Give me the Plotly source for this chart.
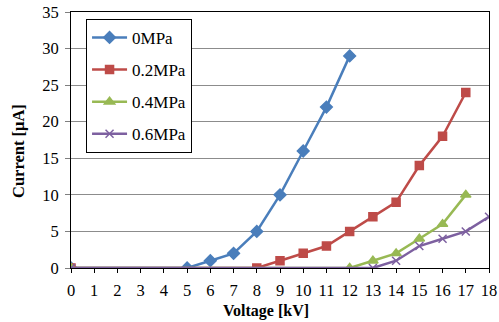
import plotly.graph_objects as go

voltage_0 = [0, 5, 6, 7, 8, 9, 10, 11, 12]
current_0 = [0, 0, 1, 2, 5, 10, 16, 22, 29]
voltage_02 = [0, 8, 9, 10, 11, 12, 13, 14, 15, 16, 17]
current_02 = [0, 0, 1, 2, 3, 5, 7, 9, 14, 18, 24]
voltage_04 = [0, 12, 13, 14, 15, 16, 17]
current_04 = [0, 0, 1, 2, 4, 6, 10]
voltage_06 = [0, 13, 14, 15, 16, 17, 18]
current_06 = [0, 0, 1, 3, 4, 5, 7]

series = [
    ("0MPa", voltage_0, current_0, "#4A7EBB", "diamond", 9),
    ("0.2MPa", voltage_02, current_02, "#BE4B48", "square", 8),
    ("0.4MPa", voltage_04, current_04, "#98B954", "triangle-up", 9),
    ("0.6MPa", voltage_06, current_06, "#7D60A0", "x-thin", 8),
]

fig = go.Figure()
for i, (name, xs, ys, col, sym, sz) in enumerate(series):
    fig.add_trace(go.Scatter(
        x=xs, y=ys, name=name, mode="lines+markers",
        line=dict(color=col, width=2.5),
        marker=dict(symbol=sym, size=sz, color=col, line=dict(color=col, width=1.5)),
        legendgroup=f"g{i}",
    ))

font = "Liberation Serif, Times New Roman, serif"
tickfont = dict(family=font, size=16.5, color="black")
fig.update_layout(
    width=499, height=322,
    margin=dict(l=71, r=10, t=12, b=54, autoexpand=False),
    paper_bgcolor="white", plot_bgcolor="white",
    font=dict(family=font, size=16, color="black"),
    showlegend=True,
    legend=dict(
        x=0.036, y=0.973, xanchor="left", yanchor="top",
        bgcolor="white", bordercolor="black", borderwidth=1,
        font=dict(family=font, size=17), tracegroupgap=7,
        itemwidth=35, entrywidth=92, entrywidthmode="pixels",
    ),
    xaxis=dict(
        range=[0, 18], dtick=1, tick0=0, automargin=False,
        showgrid=False, zeroline=False,
        showline=True, linecolor="black", linewidth=1, mirror=True,
        ticks="outside", ticklen=4, tickcolor="black", tickfont=tickfont,
        ticklabelstandoff=3,
    ),
    yaxis=dict(
        range=[0, 35], dtick=5, tick0=0, automargin=False,
        showgrid=True, gridcolor="#8C8C8C", gridwidth=1, zeroline=False,
        showline=True, linecolor="black", linewidth=1, mirror=True,
        ticks="outside", ticklen=5, tickcolor="#7F7F7F",
        ticklabelstandoff=3, tickfont=tickfont,
    ),
    annotations=[
        dict(text="<b>Voltage [kV]</b>", xref="paper", yref="paper",
             x=0.4665, y=-0.168, xanchor="center", yanchor="middle",
             showarrow=False, font=dict(family=font, size=16)),
        dict(text="<b>Current [μA]</b>", xref="paper", yref="paper",
             x=-0.1268, y=0.457, xanchor="center", yanchor="middle",
             textangle=-90, showarrow=False, font=dict(family=font, size=16.5)),
    ],
)

fig.write_html("out.html", config={"displayModeBar": False},
               post_script="document.body.style.margin='0';document.body.style.padding='0';")
